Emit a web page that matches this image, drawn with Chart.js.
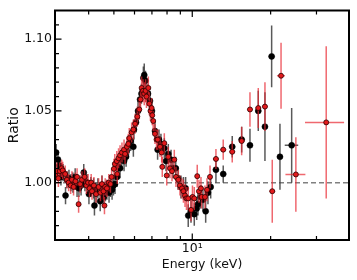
<!DOCTYPE html>
<html>
<head>
<meta charset="utf-8">
<script src="https://cdn.jsdelivr.net/npm/chart.js@4.4.1/dist/chart.umd.min.js"></script>
<style>
html,body{margin:0;padding:0;background:#fff;}
#c{display:block;}
</style>
</head>
<body>
<canvas id="c" width="357" height="280"></canvas>
<script>
// ---- Data ----
// Black series, 3-12 keV
const blackE = [3.00,3.05,3.09,3.13,3.19,3.26,3.30,3.36,3.42,3.48,3.55,3.61,3.67,3.74,3.83,3.87,3.94,4.01,4.08,4.18,
  4.21,4.27,4.34,4.43,4.50,4.57,4.64,4.70,4.79,4.85,4.92,4.98,5.05,5.14,5.20,5.28,5.36,5.47,5.57,5.60,
  5.69,5.80,5.94,5.97,6.08,6.19,6.30,6.38,6.49,6.54,6.61,6.64,6.76,6.88,7.00,7.19,7.36,7.45,7.58,7.81,
  7.93,8.09,8.29,8.43,8.64,8.82,9.05,9.25,9.43,9.65,9.89,10.18,10.40,10.52,10.77,10.99,11.26,11.49,11.77];
const blackR = [1.021,1.016,1.012,1.004,1.007,0.991,1.002,1.003,1.000,1.000,1.004,0.997,0.996,0.998,1.007,1.001,1.000,0.992,0.997,0.996,
  0.984,0.993,0.996,0.987,0.998,0.990,0.994,0.995,0.993,0.997,0.995,0.998,0.999,1.004,1.011,1.010,1.016,1.015,1.018,1.022,
  1.026,1.029,1.025,1.037,1.042,1.050,1.058,1.062,1.073,1.075,1.071,1.063,1.062,1.057,1.050,1.036,1.023,1.030,1.027,1.024,
  1.015,1.020,1.016,1.010,1.010,1.003,0.997,0.996,0.996,0.977,0.980,0.978,0.982,0.985,0.990,0.988,0.980,0.993,0.997];
const blackErr = [0.006,0.006,0.006,0.006,0.006,0.006,0.006,0.006,0.006,0.007,0.006,0.007,0.006,0.007,0.006,0.007,0.006,0.007,0.007,0.007,
  0.007,0.007,0.007,0.007,0.007,0.007,0.007,0.007,0.007,0.007,0.007,0.007,0.007,0.007,0.007,0.007,0.007,0.007,0.007,0.007,
  0.007,0.007,0.007,0.007,0.007,0.007,0.007,0.007,0.008,0.008,0.007,0.007,0.007,0.007,0.007,0.007,0.007,0.007,0.007,0.007,
  0.007,0.007,0.007,0.007,0.008,0.008,0.008,0.008,0.008,0.008,0.008,0.008,0.008,0.008,0.008,0.008,0.008,0.008,0.008];
// Black series, high-energy bins
const blackHiE = [12.33,13.15,14.24,15.48,16.66,17.93,19.02,20.18,21.72,24.09];
const blackHiR = [1.009,1.006,1.025,1.030,1.026,1.050,1.039,1.088,1.018,1.026];
const blackHiErr = [0.009,0.006,0.0075,0.009,0.0115,0.014,0.024,0.0215,0.023,0.026];
const blackHiXErr = [0.33,0.35,0.38,0.41,0.44,0.48,0.50,0.53,0.58,1.43];

// Red series, 3-12 keV
const redE = [2.98,3.02,3.06,3.10,3.15,3.18,3.25,3.30,3.35,3.41,3.45,3.50,3.56,3.61,3.66,3.71,3.77,3.86,3.92,3.98,
  4.03,4.09,4.12,4.19,4.27,4.37,4.44,4.50,4.56,4.60,4.63,4.70,4.78,4.85,4.90,5.00,5.04,5.13,5.15,5.21,
  5.28,5.37,5.47,5.52,5.61,5.68,5.73,5.85,5.94,6.03,6.15,6.26,6.33,6.39,6.47,6.54,6.62,6.67,6.78,6.84,
  6.91,6.98,7.02,7.08,7.19,7.29,7.37,7.52,7.63,7.67,7.81,7.98,8.09,8.21,8.36,8.53,8.66,8.84,8.97,9.13,
  9.25,9.38,9.50,9.65,9.89,10.02,10.18,10.45,10.61,10.80,10.86,11.19,11.39,11.70];
const redR = [1.005,1.008,1.003,1.008,1.010,1.0085,1.006,1.002,1.000,0.998,1.002,0.997,1.001,1.004,0.985,0.999,1.002,1.004,0.998,1.000,
  0.996,1.000,0.994,0.998,0.992,0.997,0.993,0.999,0.994,0.984,0.997,0.996,1.000,0.999,1.004,1.0096,1.013,1.015,1.006,1.017,
  1.019,1.021,1.023,1.020,1.025,1.027,1.031,1.035,1.037,1.041,1.046,1.051,1.058,1.066,1.064,1.062,1.064,1.060,1.066,1.055,
  1.050,1.052,1.047,1.043,1.034,1.030,1.030,1.025,1.021,1.011,1.0275,1.005,1.018,1.010,1.008,1.016,1.004,1.002,0.998,0.996,
  0.994,0.991,0.989,0.989,0.981,0.990,0.989,1.0045,0.994,0.996,0.990,0.990,0.995,1.004];
const redErr = [0.006,0.006,0.006,0.006,0.006,0.006,0.006,0.006,0.006,0.006,0.006,0.006,0.006,0.006,0.006,0.006,0.006,0.006,0.006,0.006,
  0.006,0.006,0.006,0.006,0.006,0.006,0.006,0.006,0.006,0.006,0.006,0.006,0.006,0.006,0.006,0.007,0.007,0.007,0.007,0.007,
  0.007,0.007,0.007,0.007,0.007,0.007,0.007,0.007,0.007,0.007,0.007,0.007,0.007,0.008,0.008,0.008,0.008,0.008,0.008,0.008,
  0.007,0.007,0.007,0.007,0.007,0.007,0.007,0.007,0.007,0.007,0.007,0.007,0.007,0.007,0.007,0.007,0.007,0.007,0.007,0.007,
  0.008,0.008,0.008,0.008,0.008,0.008,0.008,0.008,0.008,0.008,0.008,0.008,0.008,0.008];
// Red series, high-energy bins
const redHiE = [12.33,13.15,14.24,15.48,16.66,17.93,19.02,20.29,21.93,25.0,32.7];
const redHiR = [1.0165,1.023,1.0215,1.029,1.051,1.052,1.053,0.994,1.0745,1.0057,1.042];
const redHiErr = [0.007,0.007,0.0075,0.010,0.012,0.014,0.017,0.022,0.023,0.026,0.053];
const redHiXErr = [0.33,0.35,0.38,0.41,0.44,0.48,0.50,0.54,0.78,2.2,5.6];

// Axis ticks
const xMajorTicks = [10];
const xMinorTicks = [4,5,6,7,8,9,20,30];
const yMajorTicks = [1.00,1.05,1.10];
const yMinorTicks = [0.97,0.98,0.99,1.01,1.02,1.03,1.04,1.06,1.07,1.08,1.09,1.11];
const refLine = [1.0];

// ---- Build points ----
function build(E, R, err, xerr) {
  return E.map((e, i) => ({x: e, y: R[i], yerr: err[i], xerr: xerr ? xerr[i] : 0}));
}
const blackPts = build(blackE, blackR, blackErr).concat(build(blackHiE, blackHiR, blackHiErr, blackHiXErr));
const redPts = build(redE, redR, redErr).concat(build(redHiE, redHiR, redHiErr, redHiXErr));

const X_MIN = 2.97, X_MAX = 40, Y_MIN = 0.96, Y_MAX = 1.12;
const FONT = {family: 'DejaVu Sans', size: 12.5};

const sup = {'0':'⁰','1':'¹','2':'²','3':'³','4':'⁴','5':'⁵','6':'⁶','7':'⁷','8':'⁸','9':'⁹','-':'⁻'};
function powLabel(v) {
  const e = Math.round(Math.log10(v));
  return '10' + String(e).split('').map(c => sup[c]).join('');
}

const errorBars = {
  id: 'errorBars',
  beforeDatasetDraw(chart, args) {
    const ds = chart.data.datasets[args.index];
    if (!ds.errColor) return;
    const {ctx, chartArea: a} = chart;
    const xs = chart.scales.x, ys = chart.scales.y;
    ctx.save();
    ctx.beginPath();
    ctx.rect(a.left, a.top, a.right - a.left, a.bottom - a.top);
    ctx.clip();
    ctx.strokeStyle = ds.errColor;
    ctx.lineWidth = 1.5;
    ds.data.forEach(p => {
      const px = xs.getPixelForValue(p.x), py = ys.getPixelForValue(p.y);
      ctx.beginPath();
      if (p.yerr) {
        ctx.moveTo(px, ys.getPixelForValue(p.y - p.yerr));
        ctx.lineTo(px, ys.getPixelForValue(p.y + p.yerr));
      }
      if (p.xerr) {
        ctx.moveTo(xs.getPixelForValue(p.x - p.xerr), py);
        ctx.lineTo(xs.getPixelForValue(p.x + p.xerr), py);
      }
      ctx.stroke();
    });
    ctx.restore();
  }
};

const frame = {
  id: 'frame',
  afterDraw(chart) {
    const {ctx, chartArea: a} = chart;
    const xs = chart.scales.x, ys = chart.scales.y;
    ctx.save();
    ctx.strokeStyle = '#000';
    ctx.lineWidth = 1.2;
    ctx.beginPath();
    yMinorTicks.forEach(v => { const y = ys.getPixelForValue(v); ctx.moveTo(a.left, y); ctx.lineTo(a.left + 4, y); });
    yMajorTicks.forEach(v => { const y = ys.getPixelForValue(v); ctx.moveTo(a.left, y); ctx.lineTo(a.left + 6.5, y); });
    xMinorTicks.forEach(v => {
      const x = xs.getPixelForValue(v);
      ctx.moveTo(x, a.bottom); ctx.lineTo(x, a.bottom - 4);
      ctx.moveTo(x, a.top); ctx.lineTo(x, a.top + 4);
    });
    xMajorTicks.forEach(v => {
      const x = xs.getPixelForValue(v);
      ctx.moveTo(x, a.bottom); ctx.lineTo(x, a.bottom - 6.5);
      ctx.moveTo(x, a.top); ctx.lineTo(x, a.top + 6.5);
    });
    ctx.stroke();
    ctx.lineWidth = 2;
    ctx.strokeRect(a.left, a.top, a.right - a.left, a.bottom - a.top);
    ctx.restore();
  }
};

new Chart(document.getElementById('c'), {
  type: 'scatter',
  data: {
    datasets: [
      {
        label: 'red',
        data: redPts,
        order: 1,
        errColor: 'rgba(232,40,50,0.7)',
        pointRadius: 2.5,
        pointBackgroundColor: '#e31a1c',
        pointBorderColor: '#2a0000',
        pointBorderWidth: 0.8,
        showLine: false
      },
      {
        label: 'black',
        data: blackPts,
        order: 2,
        errColor: 'rgba(60,60,60,0.85)',
        pointRadius: 3,
        pointBackgroundColor: '#000',
        pointBorderColor: '#000',
        pointBorderWidth: 0.5,
        showLine: false
      },
      {
        label: 'ref',
        type: 'line',
        data: [{x: X_MIN, y: refLine[0]}, {x: X_MAX, y: refLine[0]}],
        order: 3,
        borderColor: '#808080',
        borderWidth: 1.5,
        borderDash: [5, 3],
        pointRadius: 0,
        fill: false
      }
    ]
  },
  options: {
    responsive: false,
    animation: false,
    devicePixelRatio: 1,
    events: [],
    layout: {padding: {top: 7, right: 8, left: 0, bottom: 0}},
    plugins: {legend: {display: false}, tooltip: {enabled: false}},
    scales: {
      x: {
        type: 'logarithmic',
        min: X_MIN, max: X_MAX,
        afterBuildTicks: s => { s.ticks = xMajorTicks.map(v => ({value: v})); },
        afterFit: s => { s.height = 40; },
        grid: {display: false, drawTicks: false},
        border: {display: false},
        ticks: {
          autoSkip: false, maxRotation: 0, padding: 1.5,
          color: '#111', font: FONT,
          callback: v => powLabel(v)
        },
        title: {display: true, text: 'Energy (keV)', color: '#111', font: FONT, padding: {top: 0, bottom: 7.5}}
      },
      y: {
        min: Y_MIN, max: Y_MAX,
        afterBuildTicks: s => { s.ticks = yMajorTicks.map(v => ({value: v})); },
        afterFit: s => { s.width = 55; },
        grid: {display: false, drawTicks: false},
        border: {display: false},
        ticks: {
          padding: 3, color: '#111', font: FONT,
          callback: v => Number(v).toFixed(2)
        },
        title: {display: true, text: 'Ratio', color: '#111', font: {family: 'DejaVu Sans', size: 14}, padding: {top: 5.5, bottom: 0}}
      }
    }
  },
  plugins: [errorBars, frame]
});
</script>
</body>
</html>
